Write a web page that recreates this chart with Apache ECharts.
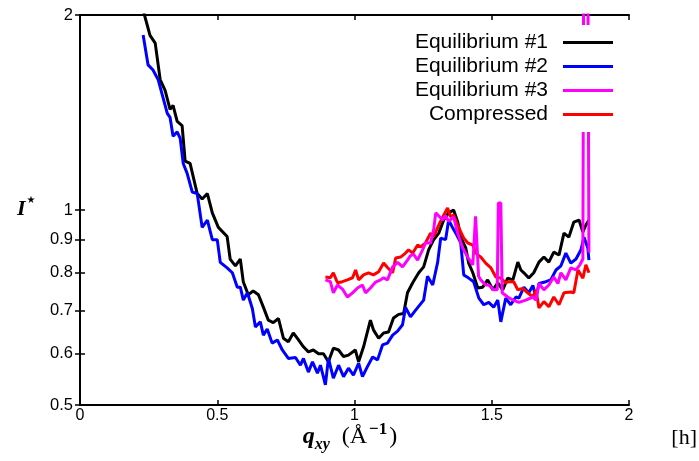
<!DOCTYPE html>
<html>
<head>
<meta charset="utf-8">
<script src="https://cdn.jsdelivr.net/npm/echarts@6/dist/echarts.min.js"></script>
<style>
html,body{margin:0;padding:0;background:#fff;}
#chart{width:699px;height:461px;}
</style>
</head>
<body>
<div id="chart"></div>
<script>
// ---- data ----
const seriesNames = ['Equilibrium #1', 'Equilibrium #2', 'Equilibrium #3', 'Compressed'];
const xTicks = [0, 0.5, 1, 1.5, 2];
const yTicks = [0.5, 0.6, 0.7, 0.8, 0.9, 1, 2];

const eq1Q = [0.228,0.255,0.274,0.292,0.310,0.328,0.339,0.354,0.372,0.383,0.401,0.427,0.445,0.464,0.482,0.504,0.536,0.547,0.566,0.584,0.595,0.613,0.631,0.650,0.668,0.686,0.704,0.723,0.741,0.759,0.777,0.796,0.814,0.832,0.850,0.869,0.887,0.905,0.923,0.942,0.960,0.978,1.003,1.015,1.033,1.058,1.069,1.088,1.106,1.124,1.142,1.161,1.179,1.193,1.212,1.234,1.252,1.270,1.288,1.307,1.325,1.343,1.361,1.376,1.387,1.405,1.416,1.431,1.449,1.467,1.485,1.504,1.522,1.540,1.558,1.577,1.595,1.606,1.617,1.635,1.653,1.672,1.690,1.708,1.726,1.745,1.763,1.781,1.799,1.818,1.832,1.843,1.854];
const eq1I = [2.05,1.86,1.81,1.59,1.53,1.43,1.45,1.37,1.35,1.19,1.18,1.06,1.04,1.06,0.99,0.94,0.91,0.84,0.82,0.84,0.774,0.74,0.75,0.74,0.708,0.676,0.67,0.68,0.634,0.626,0.646,0.63,0.615,0.604,0.608,0.60,0.60,0.583,0.612,0.608,0.594,0.597,0.608,0.583,0.615,0.676,0.653,0.634,0.646,0.648,0.681,0.69,0.692,0.745,0.772,0.80,0.817,0.868,0.899,0.921,0.965,0.99,1.0,0.958,0.908,0.874,0.828,0.80,0.758,0.76,0.78,0.753,0.772,0.753,0.785,0.78,0.831,0.808,0.80,0.785,0.80,0.831,0.846,0.831,0.861,0.852,0.921,0.908,0.958,0.965,0.925,0.948,0.965];

const eq2Q = [0.230,0.248,0.266,0.285,0.299,0.318,0.328,0.339,0.354,0.365,0.376,0.390,0.409,0.427,0.445,0.464,0.482,0.500,0.511,0.536,0.555,0.573,0.584,0.595,0.610,0.628,0.639,0.657,0.668,0.682,0.700,0.719,0.737,0.759,0.785,0.803,0.814,0.832,0.847,0.865,0.876,0.894,0.905,0.923,0.942,0.960,0.978,0.996,1.015,1.029,1.047,1.066,1.084,1.102,1.120,1.139,1.157,1.175,1.186,1.204,1.222,1.252,1.266,1.285,1.303,1.314,1.332,1.343,1.354,1.369,1.387,1.398,1.416,1.434,1.453,1.471,1.489,1.507,1.522,1.533,1.551,1.569,1.588,1.599,1.617,1.635,1.650,1.661,1.672,1.697,1.715,1.734,1.752,1.770,1.788,1.807,1.825,1.836,1.850,1.854];
const eq2I = [1.863,1.675,1.645,1.588,1.51,1.41,1.39,1.30,1.32,1.29,1.18,1.14,1.066,1.06,0.94,0.965,0.90,0.90,0.83,0.814,0.80,0.76,0.76,0.726,0.745,0.704,0.66,0.672,0.641,0.655,0.623,0.63,0.608,0.59,0.592,0.576,0.59,0.562,0.583,0.56,0.576,0.537,0.59,0.55,0.576,0.553,0.57,0.556,0.58,0.553,0.573,0.593,0.587,0.619,0.623,0.641,0.65,0.665,0.707,0.684,0.70,0.726,0.79,0.766,0.831,0.905,0.90,0.965,0.945,0.921,0.89,0.794,0.785,0.775,0.731,0.714,0.72,0.708,0.726,0.672,0.731,0.714,0.734,0.731,0.76,0.745,0.765,0.731,0.77,0.775,0.78,0.808,0.82,0.858,0.828,0.84,0.868,0.908,0.874,0.837];

const eq3Q = [0.894,0.912,0.923,0.938,0.956,0.974,0.993,1.011,1.029,1.040,1.058,1.077,1.095,1.106,1.120,1.139,1.157,1.175,1.193,1.204,1.215,1.230,1.248,1.259,1.277,1.288,1.296,1.303,1.321,1.332,1.343,1.361,1.376,1.394,1.412,1.431,1.437,1.441,1.447,1.452,1.460,1.478,1.489,1.507,1.520,1.524,1.533,1.538,1.558,1.580,1.599,1.624,1.650,1.661,1.672,1.690,1.708,1.726,1.741,1.752,1.770,1.788,1.807,1.821,1.832,1.835,1.850,1.854];
const eq3I = [0.78,0.775,0.745,0.766,0.755,0.734,0.745,0.758,0.766,0.745,0.758,0.774,0.78,0.786,0.78,0.817,0.83,0.817,0.837,0.85,0.855,0.837,0.868,0.89,0.889,0.93,0.99,0.99,0.965,0.98,0.96,0.976,0.921,0.874,0.846,0.823,0.823,0.978,0.978,0.79,0.78,0.766,0.766,0.753,0.753,1.025,1.025,0.745,0.734,0.725,0.72,0.726,0.734,0.726,0.77,0.753,0.766,0.788,0.77,0.80,0.78,0.814,0.808,0.823,0.84,2.5,2.5,0.86];

const compQ = [0.894,0.912,0.923,0.938,0.956,0.974,0.993,1.004,1.015,1.033,1.051,1.069,1.088,1.106,1.120,1.139,1.150,1.168,1.186,1.197,1.212,1.230,1.241,1.259,1.277,1.288,1.307,1.325,1.339,1.350,1.361,1.376,1.387,1.398,1.412,1.431,1.442,1.460,1.478,1.496,1.515,1.533,1.551,1.562,1.580,1.595,1.613,1.631,1.650,1.661,1.672,1.690,1.708,1.726,1.745,1.763,1.788,1.799,1.814,1.832,1.843,1.854];
const compI = [0.788,0.786,0.80,0.772,0.775,0.78,0.786,0.808,0.78,0.794,0.80,0.794,0.803,0.828,0.815,0.80,0.843,0.846,0.858,0.868,0.858,0.883,0.877,0.89,0.921,0.91,0.948,0.982,1.007,0.976,0.982,0.948,0.925,0.905,0.89,0.883,0.858,0.846,0.828,0.815,0.788,0.785,0.772,0.775,0.775,0.753,0.757,0.745,0.734,0.753,0.706,0.722,0.709,0.734,0.714,0.745,0.747,0.745,0.808,0.785,0.823,0.80];

const colors = ['#000000', '#0000ff', '#ff00ff', '#ff0000'];

function pairs(q, v) { return q.map((x, i) => [x, v[i]]); }
const seriesData = [pairs(eq1Q, eq1I), pairs(eq2Q, eq2I), pairs(eq3Q, eq3I), pairs(compQ, compI)];

const fmt = v => String(+(+v).toFixed(2));
const axisLine = { show: true, lineStyle: { color: '#000', width: 2 } };
const tick = { show: true, inside: true, length: 5, lineStyle: { color: '#000', width: 1.5 } };

const chart = echarts.init(document.getElementById('chart'), null, { renderer: 'canvas' });
chart.setOption({
  animation: false,
  backgroundColor: '#fff',
  grid: { left: 80, right: 70, top: 15, bottom: 56, containLabel: false },
  legend: {
    data: seriesNames,
    orient: 'vertical',
    align: 'right',
    right: 78,
    top: 25,
    z: 20,
    padding: [7, 8, 7, 8],
    backgroundColor: '#ffffff',
    icon: 'rect',
    itemWidth: 50,
    itemHeight: 3,
    itemGap: 3,
    textStyle: { fontFamily: 'Liberation Sans', fontSize: 21, color: '#000', lineHeight: 20, padding: [0, 10, 0, 0] }
  },
  xAxis: [
    {
      type: 'value', min: 0, max: 2, interval: 0.5,
      axisLine: axisLine, axisTick: tick, splitLine: { show: false },
      axisLabel: { color: '#000', fontFamily: 'Liberation Sans', fontSize: 16, margin: 3, formatter: fmt,
        customValues: xTicks },
    },
    {
      type: 'value', min: 0, max: 2, interval: 0.5, position: 'top',
      axisLine: axisLine, axisTick: tick, splitLine: { show: false }, axisLabel: { show: false }
    }
  ],
  yAxis: [
    {
      type: 'log', min: 0.5, max: 2, logBase: 2,
      axisLine: axisLine,
      axisTick: Object.assign({}, tick, { customValues: yTicks }),
      splitLine: { show: false },
      axisLabel: { color: '#000', fontFamily: 'Liberation Sans', fontSize: 16.5, margin: 7, formatter: fmt, customValues: yTicks }
    },
    {
      type: 'log', min: 0.5, max: 2, logBase: 2, position: 'right',
      axisLine: axisLine,
      axisTick: Object.assign({}, tick, { customValues: yTicks }),
      splitLine: { show: false }, axisLabel: { show: false }
    }
  ],
  graphic: [
    {
      type: 'text', x: 350, y: 421,
      style: {
        text: '{q|q}{sub|xy}{n|  (Å}{sup|−1}{n|)}',
        align: 'center',
        rich: {
          q: { fontFamily: 'Liberation Serif', fontStyle: 'italic', fontWeight: 'bold', fontSize: 24, lineHeight: 32, verticalAlign: 'middle' },
          sub: { fontFamily: 'Liberation Serif', fontStyle: 'italic', fontWeight: 'bold', fontSize: 16, lineHeight: 32, verticalAlign: 'bottom' },
          n: { fontFamily: 'Liberation Serif', fontSize: 24, lineHeight: 32, verticalAlign: 'middle' },
          sup: { fontFamily: 'Liberation Serif', fontWeight: 'bold', fontSize: 17, lineHeight: 32, verticalAlign: 'top', padding: [0, 2, 0, 2] }
        },
        fill: '#000'
      }
    },
    {
      type: 'text', left: 17, top: 195,
      style: {
        text: '{i|I}{s|★}',
        rich: {
          i: { fontFamily: 'Liberation Serif', fontStyle: 'italic', fontWeight: 'bold', fontSize: 22, lineHeight: 28, verticalAlign: 'middle' },
          s: { fontFamily: 'DejaVu Sans', fontSize: 10, lineHeight: 22, verticalAlign: 'top', padding: [0, 0, 0, 1] }
        },
        fill: '#000'
      }
    },
    {
      type: 'text', right: 2, top: 427,
      style: { text: '[h]', fontFamily: 'Liberation Serif', fontSize: 22, fill: '#000' }
    }
  ],
  series: seriesNames.map((name, k) => ({
    name: name,
    type: 'line',
    data: seriesData[k],
    xAxisIndex: 0,
    yAxisIndex: 0,
    showSymbol: false,
    symbol: 'none',
    clip: true,
    color: colors[k],
    lineStyle: { color: colors[k], width: 3 },
    z: k === 2 ? 3 : 2
  }))
});
</script>
</body>
</html>
